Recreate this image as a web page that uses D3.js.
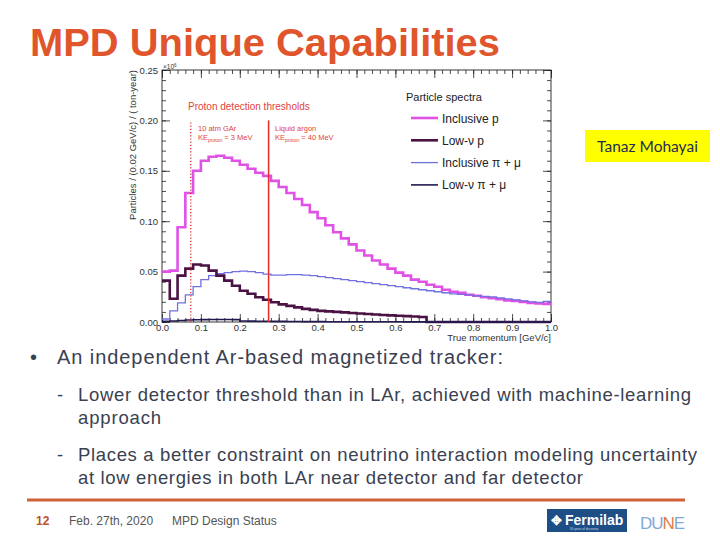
<!DOCTYPE html>
<html>
<head>
<meta charset="utf-8">
<script src="https://cdn.jsdelivr.net/npm/d3@7"></script>
<style>
  body { margin: 0; background: #fff; }
  svg { display: block; }
</style>
</head>
<body>
<div id="slide"></div>
<script>
// bin edges in GeV/c (0.02 GeV/c bins)
const binEdges = [0.00,0.02,0.04,0.06,0.08,0.10,0.12,0.14,0.16,0.18,0.20,0.22,0.24,0.26,0.28,0.30,0.32,0.34,0.36,0.38,
                  0.40,0.42,0.44,0.46,0.48,0.50,0.52,0.54,0.56,0.58,0.60,0.62,0.64,0.66,0.68,0.70,0.72,0.74,0.76,0.78,
                  0.80,0.82,0.84,0.86,0.88,0.90,0.92,0.94,0.96,0.98,1.00];

// particles per bin, x10^6
const inclusiveP = [0.050,0.051,0.094,0.128,0.150,0.160,0.164,0.165,0.163,0.160,0.156,0.152,0.148,0.145,0.140,0.134,0.128,0.122,0.116,0.109,
                    0.103,0.096,0.089,0.083,0.077,0.071,0.066,0.061,0.057,0.053,0.049,0.046,0.042,0.040,0.037,0.035,0.032,0.030,0.029,0.027,
                    0.026,0.0245,0.0235,0.0225,0.0215,0.021,0.020,0.019,0.0185,0.018];
const lowNuP = [0.041,0.023,0.046,0.053,0.057,0.056,0.051,0.046,0.041,0.036,0.031,0.028,0.0245,0.022,0.0196,0.0175,0.016,0.0145,0.013,0.012,
                0.011,0.0105,0.010,0.0095,0.009,0.0085,0.008,0.0075,0.007,0.0066,0.0062,0.0058,0.0054,0.005,0,0,0,0,0,0,
                0,0,0,0,0,0,0,0,0,0];
const inclusivePiMu = [0.003,0.011,0.019,0.027,0.035,0.042,0.046,0.048,0.049,0.050,0.0505,0.050,0.049,0.0475,0.0465,0.0465,0.047,0.047,0.0465,0.046,
                       0.045,0.044,0.043,0.042,0.041,0.040,0.039,0.038,0.037,0.036,0.035,0.034,0.033,0.032,0.031,0.030,0.029,0.028,0.0275,0.027,
                       0.026,0.0255,0.025,0.024,0.023,0.022,0.021,0.020,0.0195,0.0205];
const lowNuPiMu = [0.0008,0.001,0.0015,0.002,0.0022,0.0024,0.0025,0.0025,0.0025,0.0024,0.0010,0.0009,0.0008,0.0007,0.0006,0.0006,0.0005,0.0005,0.0004,0.0004,
                   0.0004,0.0003,0.0003,0.0003,0.0003,0.0002,0.0002,0.0002,0.0002,0.0002,0.0002,0.0001,0.0001,0.0001,0.0001,0.0001,0.0001,0.0001,0.0001,0.0001,
                   0.0001,0.0001,0.0001,0.0001,0.0001,0.0001,0.0001,0.0001,0.0001,0.0001];

const series = [
  {name: "Inclusive p",    values: inclusiveP,    color: "#e052e6", width: 2.6},
  {name: "Low-\u03bd p",   values: lowNuP,        color: "#4b1244", width: 2.6},
  {name: "Inclusive \u03c0 + \u03bc", values: inclusivePiMu, color: "#7070e0", width: 1.3},
  {name: "Low-\u03bd \u03c0 + \u03bc", values: lowNuPiMu, color: "#221a50", width: 1.6}
];

const xTicks = [0.0,0.1,0.2,0.3,0.4,0.5,0.6,0.7,0.8,0.9,1.0];
const xMinor = binEdges;
const yTicks = [0.00,0.05,0.10,0.15,0.20,0.25];
const yMinor = [0.00,0.01,0.02,0.03,0.04,0.05,0.06,0.07,0.08,0.09,0.10,0.11,0.12,0.13,0.14,0.15,0.16,0.17,0.18,0.19,0.20,0.21,0.22,0.23,0.24,0.25];

// thresholds: GAr (3 MeV KE) and LAr (40 MeV KE)
const thresholdGAr = 0.074;
const thresholdLAr = 0.274;
const thresholdTop = 0.20;

const bullets = [
  {mark: "\u2022", text: "An independent Ar-based magnetized tracker:", x: 57, y: 364, size: 20, len: 446},
  {mark: "-", text: "Lower detector threshold than in LAr, achieved with machine-learning", x: 78, y: 401, size: 18.5, len: 613},
  {mark: "",  text: "approach", x: 78, y: 424, size: 18.5, len: 83},
  {mark: "-", text: "Places a better constraint on neutrino interaction modeling uncertainty", x: 78, y: 461, size: 18.5, len: 619},
  {mark: "",  text: "at low energies in both LAr near detector and far detector", x: 78, y: 484, size: 18.5, len: 505}
];

const W = 720, H = 540;
const svg = d3.select("#slide").append("svg")
  .attr("width", W).attr("height", H)
  .style("font-family", "'Liberation Sans', Arial, sans-serif");

// title
svg.append("text")
   .attr("x", 30).attr("y", 56)
   .attr("fill", "#e0552b")
   .attr("textLength", 470).attr("lengthAdjust", "spacingAndGlyphs")
   .style("font-size", "38px").style("font-weight", "bold")
   .text("MPD Unique Capabilities");

// ---- plot ----
const plot = {left: 162, right: 551, top: 70, bottom: 322};
const x = d3.scaleLinear().domain([0, 1]).range([plot.left, plot.right]);
const y = d3.scaleLinear().domain([0, 0.25]).range([plot.bottom, plot.top]);

const g = svg.append("g");

// axes with inward ticks (ROOT style)
function styleAxis(sel) {
  sel.select(".domain").remove();
  sel.selectAll("line").attr("stroke", "#222").attr("stroke-width", 0.8);
  sel.selectAll("text").attr("fill", "#333").style("font-size", "9.5px")
     .style("font-family", "'Liberation Sans', Arial, sans-serif");
}

g.append("g").attr("transform", `translate(0,${plot.bottom})`)
 .call(d3.axisBottom(x).tickValues(xMinor).tickSize(-4).tickFormat(""))
 .call(styleAxis);
g.append("g").attr("transform", `translate(0,${plot.bottom})`)
 .call(d3.axisBottom(x).tickValues(xTicks).tickSize(-8).tickPadding(2).tickFormat(d3.format(".1f")))
 .call(styleAxis);
g.append("g").attr("transform", `translate(0,${plot.top})`)
 .call(d3.axisTop(x).tickValues(xMinor).tickSize(-4).tickFormat(""))
 .call(styleAxis);
g.append("g").attr("transform", `translate(0,${plot.top})`)
 .call(d3.axisTop(x).tickValues(xTicks).tickSize(-8).tickFormat(""))
 .call(styleAxis);

g.append("g").attr("transform", `translate(${plot.left},0)`)
 .call(d3.axisLeft(y).tickValues(yMinor).tickSize(-4).tickFormat(""))
 .call(styleAxis);
g.append("g").attr("transform", `translate(${plot.left},0)`)
 .call(d3.axisLeft(y).tickValues(yTicks).tickSize(-8).tickPadding(4).tickFormat(d3.format(".2f")))
 .call(styleAxis);
g.append("g").attr("transform", `translate(${plot.right},0)`)
 .call(d3.axisRight(y).tickValues(yMinor).tickSize(-4).tickFormat(""))
 .call(styleAxis);
g.append("g").attr("transform", `translate(${plot.right},0)`)
 .call(d3.axisRight(y).tickValues(yTicks).tickSize(-8).tickFormat(""))
 .call(styleAxis);

// frame
g.append("rect")
 .attr("x", plot.left).attr("y", plot.top)
 .attr("width", plot.right - plot.left).attr("height", plot.bottom - plot.top)
 .attr("fill", "none").attr("stroke", "#222").attr("stroke-width", 0.9);

// x10^6 multiplier
const mult = g.append("text").attr("x", plot.left + 1).attr("y", plot.top - 1)
  .attr("fill", "#333").style("font-size", "6.5px");
mult.append("tspan").text("\u00d710");
mult.append("tspan").attr("dy", -2.5).style("font-size", "4.5px").text("6");

// axis titles
g.append("text")
 .attr("transform", `translate(136,${plot.top}) rotate(-90)`)
 .attr("text-anchor", "end")
 .attr("fill", "#333").style("font-size", "9.5px")
 .text("Particles / (0.02 GeV/c) / ( ton-year)");
g.append("text")
 .attr("x", plot.right).attr("y", 341)
 .attr("text-anchor", "end")
 .attr("fill", "#333").style("font-size", "9.5px")
 .text("True momentum [GeV/c]");

// histograms
const step = d3.line()
  .x(d => x(d[0]))
  .y(d => y(d[1]))
  .curve(d3.curveStepAfter);

const drawOrder = [series[0], series[2], series[1], series[3]];
drawOrder.forEach(s => {
  const pts = s.values.map((v, i) => [binEdges[i], v]);
  pts.push([binEdges[binEdges.length - 1], s.values[s.values.length - 1]]);
  g.append("path")
   .attr("d", step(pts))
   .attr("fill", "none")
   .attr("stroke", s.color)
   .attr("stroke-width", s.width)
   .attr("stroke-linejoin", "miter");
});

// threshold lines
g.append("line")
 .attr("x1", x(thresholdGAr)).attr("x2", x(thresholdGAr))
 .attr("y1", y(0)).attr("y2", y(thresholdTop))
 .attr("stroke", "#e03a3a").attr("stroke-width", 1.4)
 .attr("stroke-dasharray", "1.2,2");
g.append("line")
 .attr("x1", x(thresholdLAr)).attr("x2", x(thresholdLAr))
 .attr("y1", y(0)).attr("y2", y(thresholdTop))
 .attr("stroke", "#e8302f").attr("stroke-width", 1.6);

const red = "#e0443c";
g.append("text").attr("x", 188).attr("y", 110)
 .attr("fill", red).style("font-size", "10px")
 .text("Proton detection thresholds");

function keLabel(xp, yp, value) {
  const t = g.append("text").attr("x", xp).attr("y", yp)
    .attr("fill", red).style("font-size", "7.5px");
  t.append("tspan").text("KE");
  t.append("tspan").attr("dy", 1.5).style("font-size", "5px").text("proton");
  t.append("tspan").attr("dy", -1.5).text(" = " + value);
}
g.append("text").attr("x", 198).attr("y", 131)
 .attr("fill", red).style("font-size", "7.5px").text("10 atm GAr");
keLabel(198, 140, "3 MeV");
g.append("text").attr("x", 275).attr("y", 131)
 .attr("fill", red).style("font-size", "7.5px").text("Liquid argon");
keLabel(275, 140, "40 MeV");

// legend
g.append("text").attr("x", 406).attr("y", 101)
 .attr("fill", "#222").style("font-size", "11px")
 .text("Particle spectra");
const legend = g.selectAll(".leg").data(series).enter().append("g")
  .attr("transform", (d, i) => `translate(411,${118 + i * 22.3})`);
legend.append("line")
  .attr("x1", 0).attr("x2", 27)
  .attr("stroke", d => d.color)
  .attr("stroke-width", d => d.width);
legend.append("text")
  .attr("x", 31).attr("y", 4.5)
  .attr("fill", "#222").style("font-size", "12px")
  .text(d => d.name);

// author tag
svg.append("rect").attr("x", 585).attr("y", 130).attr("width", 125).attr("height", 32)
   .attr("fill", "#ffff00");
svg.append("text").attr("x", 647.5).attr("y", 152)
   .attr("text-anchor", "middle")
   .attr("fill", "#1f2d50")
   .style("font-family", "Lato, 'Open Sans', sans-serif").style("font-size", "15.5px")
   .text("Tanaz Mohayai");

// bullets
const textColor = "#3a4150";
bullets.forEach(b => {
  if (b.mark) {
    svg.append("text").attr("x", b.mark === "\u2022" ? 30 : 57).attr("y", b.y)
       .attr("fill", textColor).style("font-size", b.size + "px").text(b.mark);
  }
  svg.append("text").attr("x", b.x).attr("y", b.y)
     .attr("fill", textColor).style("font-size", b.size + "px")
     .attr("textLength", b.len).attr("lengthAdjust", "spacing")
     .text(b.text);
});

// footer
svg.append("line").attr("x1", 27).attr("x2", 685).attr("y1", 500).attr("y2", 500)
   .attr("stroke", "#cf6038").attr("stroke-width", 3);
svg.append("text").attr("x", 36).attr("y", 525)
   .attr("fill", "#c0502a").style("font-size", "12px").style("font-weight", "bold").text("12");
svg.append("text").attr("x", 69).attr("y", 525)
   .attr("fill", "#555").style("font-size", "12px").text("Feb. 27th, 2020");
svg.append("text").attr("x", 172).attr("y", 525)
   .attr("fill", "#555").style("font-size", "12px").text("MPD Design Status");

// Fermilab logo
svg.append("rect").attr("x", 547).attr("y", 509).attr("width", 80).attr("height", 23)
   .attr("fill", "#1d4e86");
svg.append("text").attr("x", 551).attr("y", 525)
   .attr("fill", "#fff").style("font-size", "13px").style("font-weight", "bold").text("\u2725");
svg.append("text").attr("x", 565).attr("y", 525)
   .attr("fill", "#fff").style("font-size", "14px").style("font-weight", "bold").text("Fermilab");
svg.append("text").attr("x", 570).attr("y", 530)
   .attr("fill", "#cdd8e8").style("font-size", "3px").text("80 years of discovery");

// DUNE logo
const dune = svg.append("text").attr("x", 640).attr("y", 529)
   .style("font-size", "17px").style("letter-spacing", "-1px");
dune.append("tspan").attr("fill", "#7fa8dc").text("DU");
dune.append("tspan").attr("fill", "#e07a4a").text("N");
dune.append("tspan").attr("fill", "#7fa8dc").text("E");
</script>
</body>
</html>
